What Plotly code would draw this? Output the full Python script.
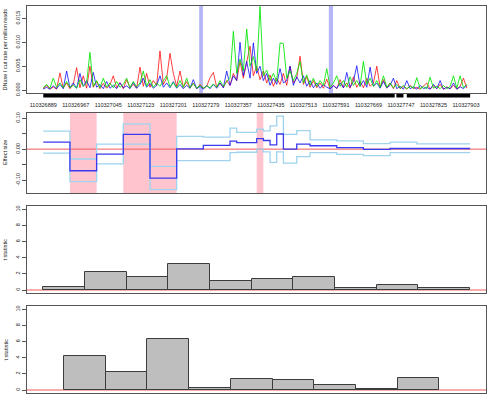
import plotly.graph_objects as go

# ---------------- data ----------------
START = 110326889
x_tick_labels = ["110326889", "110326967", "110327045", "110327123", "110327201",
                 "110327279", "110327357", "110327435", "110327513", "110327591",
                 "110327669", "110327747", "110327825", "110327903"]

# DNase I cut rate per million reads (x1e-3), sampled every 8 bp from START
cut_step = 8
red_cut = [0.3, 1.0, 0.2, 0.7, 0.2, 3.6, 0.4, 1.5, 0.3, 1.2, 4.7, 0.5, 3.0, 0.4, 5.0, 0.6,
           1.8, 0.3, 1.4, 0.4, 1.1, 3.0, 0.5, 1.6, 0.3, 2.2, 0.5, 1.2, 0.4, 4.8, 0.8, 3.5,
           0.6, 2.0, 1.0, 8.2, 1.2, 2.5, 7.7, 3.5, 0.8, 4.0, 0.6, 1.8, 0.4, 1.5, 0.3, 1.2,
           0.4, 0.8, 2.6, 3.7, 0.6, 1.5, 0.5, 2.0, 1.0, 3.5, 2.0, 6.0, 2.5, 5.5, 9.2, 3.0,
           5.0, 2.2, 4.0, 1.5, 3.2, 0.8, 2.5, 1.2, 3.5, 1.0, 5.0, 1.5, 2.5, 7.1, 1.2, 2.8,
           0.6, 2.0, 0.5, 1.5, 0.4, 2.3, 0.3, 1.0, 0.3, 2.2, 0.5, 1.5, 0.4, 2.8, 0.6, 1.8,
           0.5, 2.5, 0.8, 1.5, 5.0, 0.6, 2.2, 0.4, 1.5, 0.3, 2.0, 0.3, 0.8, 0.2, 1.0, 0.3,
           0.6, 0.2, 0.8, 1.5, 0.2, 0.9, 0.3, 1.2, 0.2, 0.7, 0.3, 1.0, 0.2, 0.8, 2.5, 0.4]
blue_cut = [0.2, 0.6, 0.2, 0.9, 0.3, 1.2, 0.3, 4.0, 0.5, 1.5, 0.4, 3.5, 0.8, 2.0, 0.5, 3.7,
            0.6, 1.2, 0.3, 1.8, 0.4, 1.0, 0.3, 1.5, 0.5, 0.9, 0.3, 1.6, 0.4, 1.2, 2.5, 0.6,
            1.4, 0.4, 1.0, 3.0, 0.6, 1.5, 0.5, 1.8, 0.4, 1.2, 0.3, 1.0, 0.4, 2.2, 0.3, 0.8,
            0.2, 1.0, 0.3, 1.2, 0.4, 1.5, 0.5, 4.0, 1.0, 3.0, 2.0, 10.0, 3.0, 6.0, 2.5, 9.9,
            3.5, 5.0, 2.0, 3.5, 1.0, 2.5, 1.2, 4.5, 1.5, 2.0, 5.0, 1.0, 2.8, 1.5, 3.0, 0.8,
            2.0, 0.5, 1.5, 0.4, 1.2, 0.6, 0.3, 0.9, 0.4, 1.5, 0.5, 3.7, 0.6, 1.8, 5.1, 0.8,
            2.0, 0.6, 4.8, 0.8, 1.5, 0.4, 1.8, 0.5, 1.0, 2.5, 0.3, 0.8, 0.2, 2.0, 0.3, 0.7,
            0.2, 1.0, 0.3, 0.6, 0.2, 1.2, 0.3, 2.0, 0.2, 0.6, 0.3, 1.5, 0.2, 0.7, 0.3, 1.0]
green_cut = [0.5, 1.2, 0.4, 2.5, 0.6, 1.5, 0.5, 1.8, 0.6, 1.0, 0.4, 2.2, 0.8, 1.5, 7.9, 0.8,
             2.0, 0.5, 2.5, 0.6, 1.5, 0.5, 1.8, 0.6, 1.2, 2.5, 0.5, 1.8, 0.7, 1.5, 4.0, 0.8,
             2.2, 0.6, 1.5, 0.8, 2.0, 3.0, 0.7, 1.6, 0.5, 2.0, 0.6, 2.5, 0.5, 1.4, 0.4, 1.0,
             0.4, 0.9, 0.5, 1.3, 0.6, 2.0, 0.8, 1.8, 2.5, 12.3, 3.5, 6.5, 4.0, 12.8, 5.0, 7.0,
             4.0, 17.5, 3.0, 4.2, 2.0, 3.5, 1.8, 9.9, 9.7, 2.5, 4.0, 2.0, 3.5, 6.0, 1.5, 3.2,
             1.0, 2.5, 0.8, 2.0, 1.0, 4.5, 0.6, 1.5, 3.0, 0.8, 2.0, 0.6, 2.8, 1.0, 2.0, 0.8,
             6.0, 1.2, 2.5, 0.8, 2.0, 0.6, 3.0, 0.6, 1.5, 0.5, 1.2, 0.4, 1.0, 0.3, 0.8, 0.4,
             2.6, 0.3, 0.7, 0.3, 2.7, 0.4, 0.8, 0.3, 1.0, 0.3, 0.8, 3.0, 0.4, 3.0, 0.5, 1.2]

# motif sites (bp offsets) and rug of sites
motif_start = [374, 685]
motif_end = [383, 695]
rug_start = [0, 847, 872]
rug_end = [843, 864, 1024]

# effect size by segment (bp offsets)
seg_edges = [0, 64, 128, 192, 256, 320, 384, 448, 464, 480, 496, 512, 528, 544, 560,
             576, 608, 640, 704, 768, 832, 896, 1024]
effect = [0.023, -0.070, -0.016, 0.048, -0.094, 0.001, 0.012, 0.026, 0.021, 0.021, 0.021,
          0.034, 0.028, 0.014, 0.049, 0.000, 0.016, 0.011, 0.005, -0.001, 0.002, 0.002]
effect_upper = [0.058, -0.032, 0.016, 0.082, -0.056, 0.041, 0.039, 0.068, 0.054, 0.054, 0.054,
                0.065, 0.059, 0.075, 0.107, 0.048, 0.060, 0.030, 0.027, 0.018, 0.023, 0.017]
effect_lower = [-0.013, -0.105, -0.048, 0.016, -0.131, -0.037, -0.037, -0.011, -0.010, -0.010,
                -0.010, 0.000, -0.009, -0.043, -0.009, -0.045, -0.024, -0.011, -0.017, -0.021,
                -0.011, -0.011]
signif_start = [64, 192, 512]
signif_end = [128, 320, 528]

# t statistics by bin
tA_start = [0, 100, 200, 300, 400, 500, 600, 700, 800, 900]
tA_end = [100, 200, 300, 400, 500, 600, 700, 800, 900, 1024]
tA = [0.40, 2.23, 1.57, 3.18, 1.12, 1.36, 1.65, 0.21, 0.62, 0.21]
tB_start = [50, 150, 250, 350, 450, 550, 650, 750, 850]
tB_end = [150, 250, 350, 450, 550, 650, 750, 850, 950]
tB = [4.17, 2.19, 6.28, 0.20, 1.33, 1.20, 0.58, 0.08, 1.45]

# ---------------- figure ----------------
W, H = 500, 400
ML, MR, MT, MB = 27, 14, 6, 7
PW, PH = W - ML - MR, H - MT - MB


def py(px):  # pixel y -> paper y
    return (H - MB - px) / PH


def pxx(px):  # pixel x -> paper x
    return (px - ML) / PW


FONT = "Liberation Sans, Arial, sans-serif"
TXT = "#222222"
BORDER = "#555555"
ZERO = "#f05a5a"

fig = go.Figure()

cut_x = [START + cut_step * i for i in range(len(red_cut))]
for vals, col in [(red_cut, "rgba(255,0,0,0.75)"), (blue_cut, "rgba(0,0,255,0.75)"),
                  (green_cut, "rgba(0,230,0,0.85)")]:
    fig.add_trace(go.Scatter(x=cut_x, y=[v * 1e-3 for v in vals], mode="lines",
                             line=dict(color=col, width=1), xaxis="x", yaxis="y",
                             showlegend=False))

edges_abs = [START + e for e in seg_edges]
for vals, col, w in [(effect_upper, "#9fd3ee", 1.3), (effect_lower, "#9fd3ee", 1.3),
                     (effect, "#3a3af0", 1.3)]:
    fig.add_trace(go.Scatter(x=edges_abs, y=vals + [vals[-1]], mode="lines",
                             line=dict(color=col, width=w, shape="hv"),
                             xaxis="x2", yaxis="y2", showlegend=False))

for starts, ends, vals, ax in [(tA_start, tA_end, tA, "3"), (tB_start, tB_end, tB, "4")]:
    fig.add_trace(go.Bar(x=[START + (s + e) / 2 for s, e in zip(starts, ends)], y=vals,
                         width=[e - s for s, e in zip(starts, ends)],
                         marker=dict(color="#bebebe", line=dict(color="#3c3c3c", width=1)),
                         xaxis="x" + ax, yaxis="y" + ax, showlegend=False))

shapes = []
for s, e in zip(motif_start, motif_end):
    shapes.append(dict(type="rect", xref="x", yref="y domain", x0=START + s, x1=START + e,
                       y0=0, y1=1, fillcolor="rgba(120,120,240,0.55)", line_width=0,
                       layer="below"))
for s, e in zip(rug_start, rug_end):
    shapes.append(dict(type="rect", xref="x", yref="paper", x0=START + s, x1=START + e,
                       y0=py(97.5), y1=py(94.0), fillcolor="black", line_width=0))
for s, e in zip(signif_start, signif_end):
    shapes.append(dict(type="rect", xref="x2", yref="y2 domain", x0=START + s, x1=START + e,
                       y0=0, y1=1, fillcolor="#ffc4ce", line_width=0, layer="below"))
for ax in ["2", "3", "4"]:
    shapes.append(dict(type="line", xref="x" + ax + " domain", yref="y" + ax, x0=0, x1=1,
                       y0=0, y1=0, line=dict(color=ZERO, width=1), layer="below"))

xr = [START - 39, START + 1062]
common_x = dict(range=xr, showline=True, mirror=True, linecolor=BORDER, linewidth=1,
                showgrid=False, zeroline=False, automargin=False)
common_y = dict(showline=True, mirror=True, linecolor=BORDER, linewidth=1, showgrid=False,
                zeroline=False, ticks="outside", ticklen=4, tickcolor=BORDER, tickwidth=1,
                tickangle=-90, tickfont=dict(size=5.5, color=TXT, family=FONT),
                automargin=False)

domains = [(py(93), py(6)), (py(193), py(113)), (py(293), py(206)), (py(393), py(306))]

tick_x = [int(t) for t in x_tick_labels]
fig.update_layout(
    width=W, height=H, margin=dict(l=ML, r=MR, t=MT, b=MB, autoexpand=False),
    paper_bgcolor="white", plot_bgcolor="white", bargap=0,
    font=dict(family=FONT, color=TXT),
    xaxis=dict(**common_x, anchor="y", tickvals=tick_x, ticktext=x_tick_labels,
               ticks="outside", ticklen=6, tickcolor="rgba(0,0,0,0)",
               tickfont=dict(size=5.5, color=TXT, family=FONT)),
    xaxis2=dict(**common_x, anchor="y2", matches="x", showticklabels=False),
    xaxis3=dict(**common_x, anchor="y3", matches="x", showticklabels=False),
    xaxis4=dict(**common_x, anchor="y4", matches="x", showticklabels=False),
    yaxis=dict(**common_y, domain=domains[0], range=[-0.0006, 0.0176],
               tickvals=[0, 0.005, 0.010, 0.015], ticktext=["0.000", "0.005", "0.010", "0.015"]),
    yaxis2=dict(**common_y, domain=domains[1], range=[-0.142, 0.117],
                tickvals=[-0.10, -0.05, 0, 0.05, 0.10], ticktext=["-0.10", "", "0.00", "", "0.10"]),
    yaxis3=dict(**common_y, domain=domains[2], range=[-0.37, 10.41],
                tickvals=[0, 2, 4, 6, 8, 10], ticktext=["0", "2", "4", "6", "8", "10"]),
    yaxis4=dict(**common_y, domain=domains[3], range=[-0.37, 10.41],
                tickvals=[0, 2, 4, 6, 8, 10], ticktext=["0", "2", "4", "6", "8", "10"]),
    shapes=shapes,
)

titles = [("DNase I cut rate per million reads", 49.5), ("Effect size", 153),
          ("t statistic", 249.5), ("t statistic", 349.5)]
for t, ypx in titles:
    fig.add_annotation(text=t, x=pxx(5), y=py(ypx), xref="paper", yref="paper",
                       showarrow=False, textangle=-90, xanchor="center", yanchor="middle",
                       font=dict(size=5.5, color=TXT, family=FONT))

fig.write_html("out.html", config={"displayModeBar": False},
               post_script="document.body.style.margin='0px';document.body.style.overflow='hidden';")
